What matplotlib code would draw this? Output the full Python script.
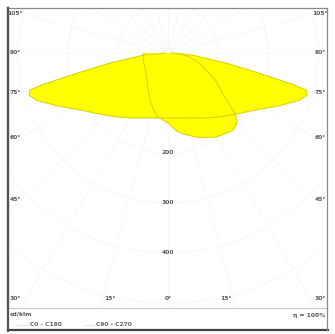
import numpy as np
import matplotlib
matplotlib.use('Agg')
import matplotlib.pyplot as plt
from matplotlib.lines import Line2D

# luminous intensity, cd/klm, by gamma angle (deg from nadir)
gamma_a = [0, 10, 20, 30, 40, 50, 55, 60, 65, 70, 73, 75, 76, 78, 80, 85, 90]
c0_c180 = [130, 132, 138, 150, 166, 188, 202, 222, 248, 278, 290, 286, 250, 170, 120, 50, 6]

gamma_b = [0, 6, 10, 20, 30, 40, 45, 48, 51, 55, 60, 70, 80, 90]
c90 = [140, 156, 164, 180, 194, 202, 196, 180, 152, 128, 110, 72, 44, 16]
gamma_c = [0, 10, 20, 30, 40, 50, 60, 70, 80, 90]
c270 = [140, 128, 104, 80, 66, 58, 54, 52, 50, 48]

ring_values = [200, 300, 400]
side_angles = [105, 90, 75, 60, 45]
bottom_angles = [15, 0, 15]
legend_labels = ['C0 - C180', 'C90 - C270']


def to_xy(angles, values, side):
    a = np.radians(np.asarray(angles, dtype=float))
    r = np.asarray(values, dtype=float)
    return side * r * np.sin(a), -r * np.cos(a)


W, H = 335, 334
fig = plt.figure(figsize=(W / 100, H / 100), dpi=100)
fig.patch.set_facecolor('white')

# diagram area in pixels: x 8..327, y 8..308, centre at (168, 53), 2 cd/klm per px
ax = fig.add_axes([8 / W, (H - 308) / H, 319 / W, 300 / H])
ax.set_xlim(-320, 318)
ax.set_ylim(-510, 90)
ax.set_aspect('equal')
ax.set_xticks([])
ax.set_yticks([])
for s in ['top', 'right']:
    ax.spines[s].set_color('#8a8a8a')
    ax.spines[s].set_linewidth(0.9)
ax.spines['left'].set_color('#555555')
ax.spines['left'].set_linewidth(1.6)
ax.spines['bottom'].set_color('#c8c8c8')
ax.spines['bottom'].set_linewidth(0.8)

# very faint grid
grid_c = '#f6f6f6'
t = np.linspace(0, 2 * np.pi, 400)
for rv in [100, 200, 300, 400, 500, 600]:
    ax.plot(rv * np.cos(t), rv * np.sin(t), color=grid_c, lw=0.6, zorder=0)
for ang in range(-180, 181, 15):
    a = np.radians(ang)
    ax.plot([0, 900 * np.sin(a)], [0, -900 * np.cos(a)], color=grid_c, lw=0.6, zorder=0)

# curves
xa_r, ya_r = to_xy(gamma_a, c0_c180, 1)
xa_l, ya_l = to_xy(gamma_a, c0_c180, -1)
xa = np.concatenate([xa_l[::-1], xa_r])
ya = np.concatenate([ya_l[::-1], ya_r])

xb_r, yb_r = to_xy(gamma_b, c90, 1)
xb_l, yb_l = to_xy(gamma_c, c270, -1)
xb = np.concatenate([xb_l[::-1], xb_r])
yb = np.concatenate([yb_l[::-1], yb_r])

yellow = '#ffff00'
edge = '#dcd400'
ax.fill(xa, ya, color=yellow, zorder=2, lw=0)
ax.fill(xb, yb, color=yellow, zorder=2, lw=0)
ax.plot(xa, ya, color=edge, lw=0.8, zorder=3)
ax.plot(xb, yb, color=edge, lw=0.8, zorder=3)

# labels
lab = dict(fontsize=4.3, color='#5a5a5a', ha='center', va='center', fontweight='bold')
for rv in ring_values:
    ax.text(0, -rv, str(rv), zorder=4, **lab)
for ang in side_angles:
    y = -292 / np.tan(np.radians(ang))
    ax.text(-306, y, f'{ang}°', **lab)
    ax.text(304, y, f'{ang}°', **lab)
ax.text(-306, -490, '30°', **lab)
ax.text(304, -490, '30°', **lab)
for ang, side in zip(bottom_angles, [-1, 1, 1]):
    x = side * 490 * np.tan(np.radians(ang)) * 0.88
    ax.text(x, -490, f'{ang}°', **lab)

# text below the diagram
fig.text(10 / W, 1 - 314 / H, 'cd/klm', fontsize=4.3, color='#555555', fontweight='bold',
         ha='left', va='center')
fig.text(325 / W, 1 - 316 / H, 'η = 100%', fontsize=4.3, color='#555555', fontweight='bold',
         ha='right', va='center')
fig.add_artist(Line2D([18 / W, 28 / W], [1 - 325 / H] * 2, color='#e6e6e6', lw=0.8))
fig.text(30 / W, 1 - 325 / H, legend_labels[0], fontsize=4.3, color='#666666',
         fontweight='bold', ha='left', va='center')
fig.add_artist(Line2D([84 / W, 94 / W], [1 - 325 / H] * 2, color='#e6e6e6', lw=0.8))
fig.text(96 / W, 1 - 325 / H, legend_labels[1], fontsize=4.3, color='#666666',
         fontweight='bold', ha='left', va='center')

# outer frame
fig.add_artist(Line2D([8 / W, 8 / W], [1 - 8 / H, 1 - 331 / H], color='#555555', lw=1.6))
fig.add_artist(Line2D([8 / W, 328 / W], [1 - 330 / H] * 2, color='#444444', lw=1.6))
fig.add_artist(Line2D([327 / W, 327 / W], [1 - 308 / H, 1 - 330 / H], color='#8a8a8a', lw=0.9))

fig.savefig('out.png', dpi=100)
